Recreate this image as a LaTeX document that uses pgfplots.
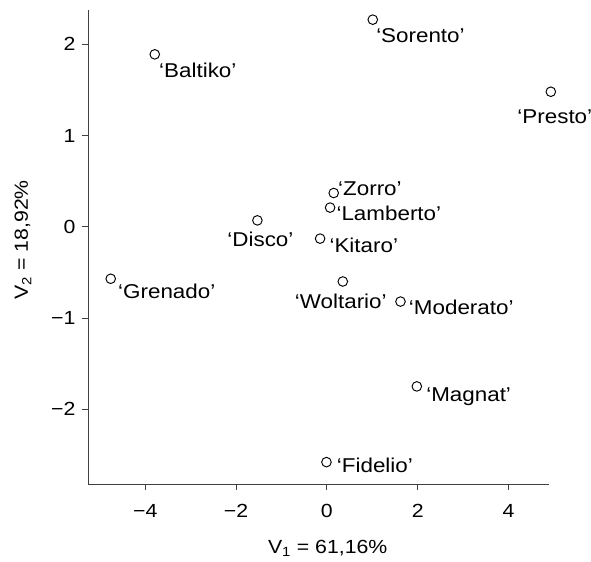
\documentclass[border=0pt]{standalone}
\usepackage{fontspec}
\setmainfont{Liberation Sans}[FakeStretch=1.12]
\usepackage{pgfplots}
\pgfplotsset{compat=1.18}
\pgfplotsset{
  pt/.style n args={4}{only marks, mark=o, mark size=4.8pt,
    mark options={line width=0.95pt, black},
    nodes near coords={#1},
    nodes near coords style={anchor=#2, inner sep=0pt, xshift=#3pt, yshift=#4pt, text=black,
      font=\fontsize{20pt}{23pt}\selectfont}},
}
\begin{document}
\fontsize{19pt}{22pt}\selectfont
\begin{tikzpicture}[font=\fontsize{19pt}{22pt}\selectfont]
\begin{axis}[
  scale only axis, width=461pt, height=474pt,
  xmin=-5.26, xmax=4.89, ymin=-2.82, ymax=2.376,
  axis x line*=bottom, axis y line*=left,
  axis line style={black!75, line width=0.9pt, -},
  tick align=outside, major tick length=6pt,
  tick style={black!75, line width=0.9pt},
  xtick={-4,-2,0,2,4}, xticklabels={−4,−2,0,2,4},
  ytick={-2,-1,0,1,2}, yticklabels={−2,−1,0,1,2},
  xticklabel style={yshift=-8pt},
  every axis x label/.style={at={(rel axis cs:0.52,0)}, anchor=base, yshift=-69pt},
  every axis y label/.style={at={(rel axis cs:0,0.515)}, xshift=-60pt, rotate=90, anchor=base},
  xlabel={V\textsubscript{1} = 61,16\%},
  ylabel={V\textsubscript{2} = 18,92\%},
  clip=false,
]
\addplot[pt={‘Sorento’}{base west}{3}{-23}] coordinates {(1.01,2.27)};
\addplot[pt={‘Presto’}{base}{4}{-32}] coordinates {(4.93,1.48)};
\addplot[pt={‘Baltiko’}{base west}{4}{-23}] coordinates {(-3.79,1.89)};
\addplot[pt={‘Zorro’}{base west}{4}{-2}] coordinates {(0.15,0.37)};
\addplot[pt={‘Lamberto’}{base west}{6}{-13}] coordinates {(0.07,0.21)};
\addplot[pt={‘Disco’}{base}{3}{-26}] coordinates {(-1.53,0.07)};
\addplot[pt={‘Kitaro’}{base west}{9}{-14}] coordinates {(-0.15,-0.13)};
\addplot[pt={‘Woltario’}{base}{-2}{-27}] coordinates {(0.35,-0.60)};
\addplot[pt={‘Moderato’}{base west}{8}{-13}] coordinates {(1.62,-0.82)};
\addplot[pt={‘Grenado’}{base west}{7}{-20}] coordinates {(-4.76,-0.57)};
\addplot[pt={‘Magnat’}{base west}{9}{-15}] coordinates {(1.98,-1.75)};
\addplot[pt={‘Fidelio’}{base west}{10}{-10}] coordinates {(-0.01,-2.58)};
\end{axis}
\pgfresetboundingbox
\path ([shift={(-88pt,-77pt)}]current axis.south west) rectangle ([shift={(42pt,10pt)}]current axis.north east);
\end{tikzpicture}
\end{document}
